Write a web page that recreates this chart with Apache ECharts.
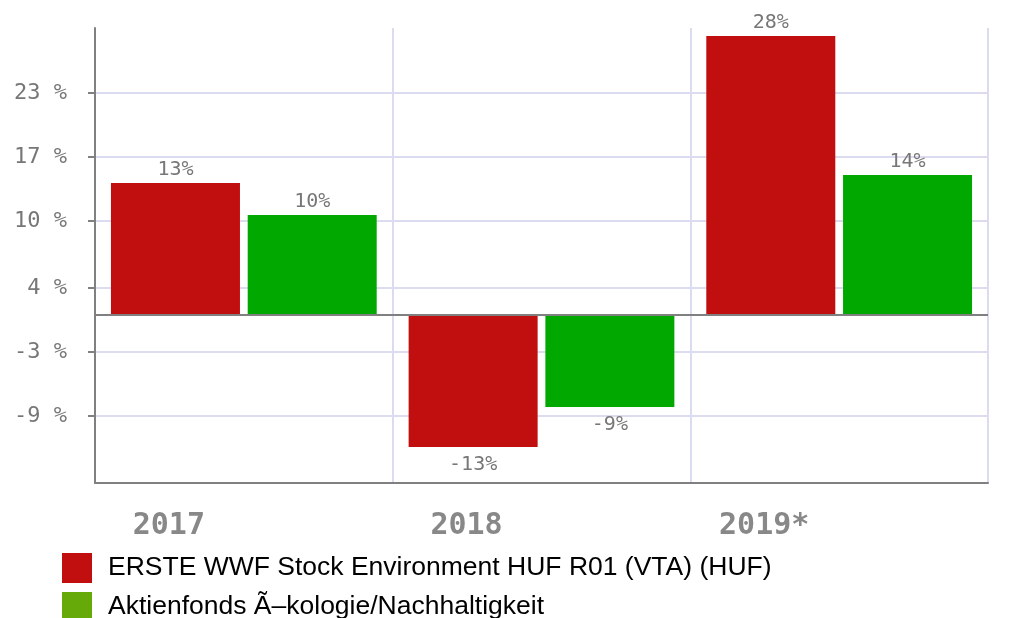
<!DOCTYPE html>
<html>
<head>
<meta charset="utf-8">
<title>ERSTE WWF Stock Environment</title>
<script src="https://cdn.jsdelivr.net/npm/echarts@6/dist/echarts.min.js"></script>
<style>
  html, body { margin: 0; padding: 0; background: #fff; }
  #chart { width: 1015px; height: 618px; }
</style>
</head>
<body>
<div id="chart"></div>
<script>
// data
const years = ['2017', '2018', '2019*']
const fundValues = [13.2, -13.2, 27.9]
const peerValues = [10.0, -9.2, 14.0]
const seriesNames = ['ERSTE WWF Stock Environment HUF R01 (VTA) (HUF)', 'Aktienfonds Ã–kologie/Nachhaltigkeit']
// y gridlines and the labels the original prints at them
const gridValues = [-10.1, -3.7, 2.7, 9.4, 15.8, 22.2]
const gridLabels = ['-9 %', '-3 %', '4 %', '10 %', '17 %', '23 %']

const fundColor = '#c10e0e'
const peerColor = '#00a800'
const peerLegendColor = '#66aa0a'
const axisGray = '#808080'
const gridColor = '#dcdcf0'

const chart = echarts.init(document.getElementById('chart'), null, { renderer: 'canvas' })

function barData(values) {
  return values.map(v => ({
    value: v,
    label: { position: v < 0 ? 'bottom' : 'top', distance: v < 0 ? 8 : 3 }
  }))
}

const barLabel = {
  show: true,
  color: '#777',
  fontFamily: 'DejaVu Sans Mono',
  fontSize: 20,
  formatter: p => Math.round(p.value) + '%'
}

chart.setOption({
  animation: false,
  backgroundColor: '#fff',
  grid: {
    left: 95,
    right: 27,
    top: 28,
    bottom: 135
  },
  legend: {
    orient: 'vertical',
    left: 62,
    top: 553,
    height: 90,
    padding: 0,
    itemWidth: 30,
    itemHeight: 30,
    itemGap: 9,
    icon: 'rect',
    textStyle: {
      color: '#000',
      fontFamily: 'Liberation Sans',
      fontSize: 26.5,
      padding: [2, 0, 0, 11]
    },
    data: [
      { name: seriesNames[0], itemStyle: { color: fundColor } },
      { name: seriesNames[1], itemStyle: { color: peerLegendColor } }
    ]
  },
  xAxis: {
    type: 'category',
    data: years,
    axisLine: { onZero: false, lineStyle: { color: axisGray, width: 2 } },
    axisTick: { show: false },
    axisLabel: {
      color: '#888',
      fontFamily: 'DejaVu Sans Mono',
      fontWeight: 'bold',
      fontSize: 30,
      margin: 28,
      padding: [0, 150, 0, 0]
    },
    splitLine: { show: true, lineStyle: { color: gridColor, width: 2 } }
  },
  yAxis: {
    type: 'value',
    min: -16.8,
    max: 28.7,
    axisLine: { show: true, lineStyle: { color: axisGray, width: 2 } },
    axisTick: {
      show: true,
      length: 7,
      customValues: gridValues,
      lineStyle: { color: axisGray, width: 2 }
    },
    axisLabel: {
      customValues: gridValues,
      color: '#777',
      fontFamily: 'DejaVu Sans Mono',
      fontSize: 22,
      margin: 28,
      formatter: v => gridLabels[gridValues.indexOf(v)]
    },
    splitLine: { show: true, lineStyle: { color: gridColor, width: 2 } }
  },
  series: [
    {
      name: seriesNames[0],
      type: 'bar',
      data: barData(fundValues),
      barWidth: 129,
      barGap: '6%',
      itemStyle: { color: fundColor },
      label: barLabel,
      markLine: {
        silent: true,
        symbol: 'none',
        z: 3,
        label: { show: false },
        lineStyle: { color: axisGray, width: 2, type: 'solid' },
        data: [{ yAxis: 0 }]
      }
    },
    {
      name: seriesNames[1],
      type: 'bar',
      data: barData(peerValues),
      barWidth: 129,
      itemStyle: { color: peerColor },
      label: barLabel
    }
  ]
})
</script>
</body>
</html>
